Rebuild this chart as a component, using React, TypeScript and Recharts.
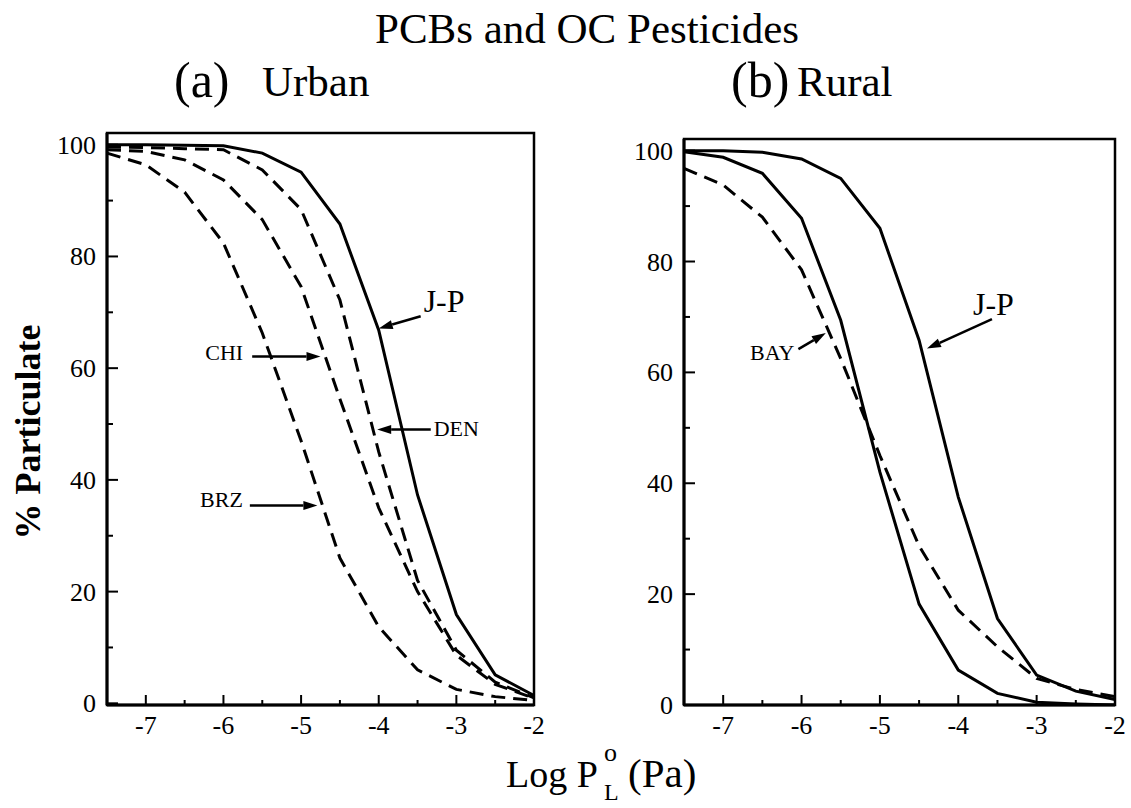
import React from 'react';
import { LineChart, Line, XAxis, YAxis, ReferenceArea, ReferenceLine } from 'recharts';

// shared x axis: log of sub-cooled liquid vapour pressure
const logP = [-7.5, -7, -6.5, -6, -5.5, -5, -4.5, -4, -3.5, -3, -2.5, -2];

// (a) Urban sites
const urbanJP = [100, 100, 99.9, 99.8, 98.5, 95.1, 85.8, 66.8, 37.3, 15.9, 5.1, 1.4];
const urbanDEN = [99.6, 99.5, 99.3, 99.1, 95.5, 88.4, 72.2, 45, 22, 9.5, 3.8, 1];
const urbanCHI = [99.1, 98.8, 97.3, 93.7, 86.6, 74.6, 54.5, 35, 20, 8.6, 3.4, 0.9];
const urbanBRZ = [98.5, 96.4, 91.5, 82.4, 66.3, 47, 26, 13.7, 6, 2.5, 1.2, 0.5];

// (b) Rural sites
const ruralJP = [100, 100, 99.7, 98.5, 95, 86, 65.8, 37.5, 15.6, 5.4, 2.5, 1];
const ruralSite = [99.8, 98.8, 95.9, 87.8, 69.4, 42, 18.2, 6.3, 2.1, 0.5, 0.2, 0];
const ruralBAY = [96.8, 93.8, 88, 78.5, 62.5, 45, 28.7, 17.1, 10.5, 4.8, 2.8, 1.5];

const xTicks = [-7.5, -7, -6.5, -6, -5.5, -5, -4.5, -4, -3.5, -3, -2.5, -2];
const xLabels = [-7, -6, -5, -4, -3, -2];
const yTicks = [0, 10, 20, 30, 40, 50, 60, 70, 80, 90, 100];
const yLabels = [0, 20, 40, 60, 80, 100];

const urbanRows = logP.map((x, i) => ({
  x,
  jp: urbanJP[i],
  den: urbanDEN[i],
  chi: urbanCHI[i],
  brz: urbanBRZ[i],
}));

const ruralRows = logP.map((x, i) => ({
  x,
  jp: ruralJP[i],
  site: ruralSite[i],
  bay: ruralBAY[i],
}));

type Note = {
  label: string;
  from: [number, number];
  to: [number, number];
  size: number;
  anchor: 'start' | 'end';
  dx: number;
  dy: number;
};

const urbanNotes: Note[] = [
  { label: 'J-P', from: [-3.46, 69.3], to: [-4.0, 67.1], size: 32, anchor: 'start', dx: 3, dy: -4 },
  { label: 'CHI', from: [-5.63, 62.1], to: [-4.75, 62.1], size: 22, anchor: 'end', dx: -9, dy: 4 },
  { label: 'DEN', from: [-3.33, 49.0], to: [-4.02, 49.0], size: 22, anchor: 'start', dx: 3, dy: 6 },
  { label: 'BRZ', from: [-5.66, 35.4], to: [-4.79, 35.4], size: 22, anchor: 'end', dx: -7, dy: 1 },
];

const ruralNotes: Note[] = [
  { label: 'BAY', from: [-6.04, 64.2], to: [-5.69, 67.1], size: 22, anchor: 'end', dx: -4, dy: 11 },
  { label: 'J-P', from: [-3.57, 69.6], to: [-4.4, 64.3], size: 32, anchor: 'start', dx: -19, dy: -4 },
];

const FONT = "'Liberation Serif', 'Times New Roman', serif";
const DASH = '14 8';

const XTick = (props: any) => {
  const { x, y, payload } = props;
  const major = xLabels.includes(payload.value);
  return (
    <g>
      <line x1={x} x2={x} y1={y} y2={y - (major ? 10 : 5)} stroke="#000" strokeWidth={2} />
      {major && (
        <text x={x} y={y + 29} textAnchor="middle" fontSize={26} fontFamily={FONT} fill="#000">
          {payload.value}
        </text>
      )}
    </g>
  );
};

const YTick = (props: any) => {
  const { x, y, payload } = props;
  const major = yLabels.includes(payload.value);
  return (
    <g>
      <line x1={x} x2={x + (major ? 11 : 6)} y1={y} y2={y} stroke="#000" strokeWidth={2} />
      {major && (
        <text x={x - 11} y={y + 9} textAnchor="end" fontSize={26} fontFamily={FONT} fill="#000">
          {payload.value}
        </text>
      )}
    </g>
  );
};

const Arrow = (props: any) => {
  const { x1, y1, x2, y2, note } = props;
  if (x1 == null || x2 == null) return null;
  const dx = x2 - x1;
  const dy = y2 - y1;
  const len = Math.sqrt(dx * dx + dy * dy) || 1;
  const ux = dx / len;
  const uy = dy / len;
  const head = 14;
  const half = 4.5;
  const bx = x2 - ux * head;
  const by = y2 - uy * head;
  return (
    <g>
      <line x1={x1} y1={y1} x2={bx} y2={by} stroke="#000" strokeWidth={2.5} />
      <polygon
        points={`${x2},${y2} ${bx - uy * half},${by + ux * half} ${bx + uy * half},${by - ux * half}`}
        fill="#000"
      />
      <text
        x={x1 + note.dx}
        y={y1 + note.dy}
        textAnchor={note.anchor}
        fontSize={note.size}
        fontFamily={FONT}
        fill="#000"
      >
        {note.label}
      </text>
    </g>
  );
};

const renderNotes = (notes: Note[]) =>
  notes.map((n) => (
    <ReferenceLine
      key={n.label + n.from[0]}
      segment={[
        { x: n.from[0], y: n.from[1] },
        { x: n.to[0], y: n.to[1] },
      ]}
      shape={(p: any) => <Arrow {...p} note={n} />}
    />
  ));

const axisLine = { stroke: '#000', strokeWidth: 3 };

const Panel = ({
  rows,
  series,
  notes,
  yDomain,
  width,
  margin,
  yWidth,
}: {
  rows: any[];
  series: { key: string; dashed: boolean }[];
  notes: Note[];
  yDomain: [number, number];
  width: number;
  margin: { top: number; right: number; left: number; bottom: number };
  yWidth: number;
}) => (
  <LineChart width={width} height={808} data={rows} margin={margin}>
    <XAxis
      dataKey="x"
      type="number"
      domain={[-7.5, -2]}
      ticks={xTicks}
      interval={0}
      tickSize={0}
      tickMargin={0}
      tickLine={false}
      axisLine={axisLine}
      tick={(p: any) => <XTick {...p} />}
      height={30}
    />
    <YAxis
      type="number"
      domain={yDomain}
      ticks={yTicks}
      interval={0}
      tickSize={0}
      tickMargin={0}
      tickLine={false}
      axisLine={axisLine}
      tick={(p: any) => <YTick {...p} />}
      width={yWidth}
      allowDataOverflow
    />
    <ReferenceArea
      x1={-7.5}
      x2={-2}
      y1={yDomain[0]}
      y2={yDomain[1]}
      fill="none"
      fillOpacity={0}
      stroke="#000"
      strokeWidth={2.5}
      ifOverflow="visible"
    />
    {series.map((s) => (
      <Line
        key={s.key}
        type="linear"
        dataKey={s.key}
        stroke="#000"
        strokeWidth={3}
        strokeDasharray={s.dashed ? DASH : undefined}
        dot={false}
        activeDot={false}
        isAnimationActive={false}
      />
    ))}
    {renderNotes(notes)}
  </LineChart>
);

export default function App() {
  return (
    <div
      style={{
        position: 'absolute',
        left: 0,
        top: 0,
        width: 1131,
        height: 808,
        background: '#fff',
        fontFamily: FONT,
      }}
    >
      <div style={{ position: 'absolute', left: 0, top: 0 }}>
        <Panel
          rows={urbanRows}
          series={[
            { key: 'jp', dashed: false },
            { key: 'den', dashed: true },
            { key: 'chi', dashed: true },
            { key: 'brz', dashed: true },
          ]}
          notes={urbanNotes}
          yDomain={[-0.3, 102.1]}
          width={560}
          margin={{ top: 133, right: 26, left: 0, bottom: 73 }}
          yWidth={107}
        />
      </div>
      <div style={{ position: 'absolute', left: 560, top: 0 }}>
        <Panel
          rows={ruralRows}
          series={[
            { key: 'jp', dashed: false },
            { key: 'site', dashed: false },
            { key: 'bay', dashed: true },
          ]}
          notes={ruralNotes}
          yDomain={[0, 102.1]}
          width={571}
          margin={{ top: 139, right: 16, left: 0, bottom: 73 }}
          yWidth={124}
        />
      </div>
      <svg
        width={1131}
        height={808}
        style={{ position: 'absolute', left: 0, top: 0, pointerEvents: 'none' }}
        fontFamily={FONT}
      >
        <text x={587} y={43} textAnchor="middle" fontSize={43}>
          PCBs and OC Pesticides
        </text>
        <text x={174} y={97} fontSize={50}>
          (a)
        </text>
        <text x={262} y={96} fontSize={43}>
          Urban
        </text>
        <text x={731} y={97} fontSize={50}>
          (b)
        </text>
        <text x={797} y={96} fontSize={43}>
          Rural
        </text>
        <text
          x={28}
          y={432}
          transform="rotate(-90 28 432)"
          textAnchor="middle"
          dominantBaseline="central"
          fontSize={36}
          fontWeight="bold"
        >
          % Particulate
        </text>
        <text x={506} y={787} fontSize={38}>
          Log P
        </text>
        <text x={604} y={761} fontSize={26}>
          o
        </text>
        <text x={604} y={800} fontSize={24}>
          L
        </text>
        <text x={628} y={787} fontSize={41}>
          (Pa)
        </text>
      </svg>
    </div>
  );
}
